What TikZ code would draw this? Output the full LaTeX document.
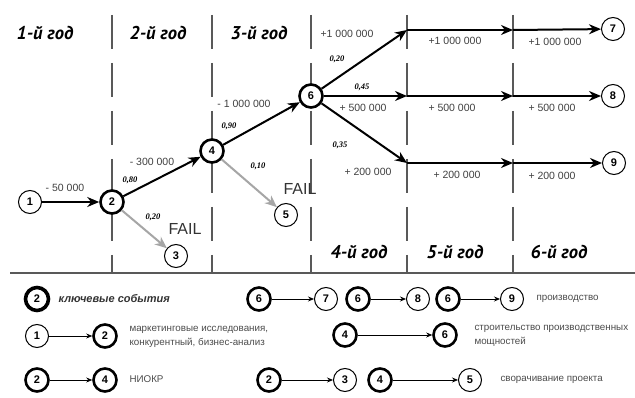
\documentclass[tikz,border=0pt]{standalone}
\usepackage{fontspec}
\setmainfont{Liberation Sans}
\newfontfamily\ptsans{PT Sans}
\newfontfamily\tnr{Liberation Serif}
\usetikzlibrary{arrows.meta}
\begin{document}
\begin{tikzpicture}[x=1pt,y=-1pt,
 ev/.style={circle,draw,fill=white,minimum size=23pt,inner sep=0pt,font=\fontsize{11}{11}\selectfont\bfseries,line width=1pt},
 key/.style={ev,line width=2.6pt},
 main/.style={line width=2pt,-{Stealth[length=12pt,width=10pt]}},
 fail/.style={line width=2pt,draw=black!35,-{Stealth[length=12pt,width=10pt]}},
 amt/.style={font=\fontsize{10.5}{11}\selectfont,text=black!75},
 prob/.style={font=\tnr\fontsize{8.5}{9}\selectfont\bfseries\itshape},
 year/.style={font=\ptsans\fontsize{18.5}{19}\selectfont\bfseries\itshape},
 failt/.style={font=\fontsize{16}{16}\selectfont,text=black!80},
 gridl/.style={draw=black!65,line width=1.3pt,dash pattern=on 34pt off 14pt},
 leg/.style={line width=0.8pt,-{Stealth[length=6pt,width=5pt]}},
 ltext/.style={font=\fontsize{9.8}{13.5}\selectfont,text=black!70,align=left,anchor=west}
]
\useasboundingbox[fill=white] (0,0) rectangle (635,398);
% grid
\foreach \xx in {112,212,311,407,513}{\draw[gridl] (\xx,15) -- (\xx,273);}
\draw[black!65,line width=1.3pt] (10,273) -- (635,273);
% years
\node[year] (y1) at (45,33) {1-й год};
\node[year] (y2) at (158,33) {2-й год};
\node[year] (y3) at (259,33) {3-й год};
\node[year] (y4) at (359,252) {4-й год};
\node[year] (y5) at (455,252) {5-й год};
\node[year] (y6) at (559,252) {6-й год};
% nodes
\node[ev]  (n1) at (30,202) {1};
\node[key] (n2) at (112,202) {2};
\node[key] (n4) at (212,151) {4};
\node[ev]  (n3) at (176,256) {3};
\node[ev]  (n5) at (286,215) {5};
\node[key] (n6) at (311,96) {6};
\node[ev]  (n7) at (613,29) {7};
\node[ev]  (n8) at (613,96) {8};
\node[ev]  (n9) at (614,163) {9};
\coordinate (a1) at (407,30);
\coordinate (a2) at (513,30);
\coordinate (b1) at (407,96);
\coordinate (b2) at (513,96);
\coordinate (c1) at (407,163);
\coordinate (c2) at (513,163);
% connectors
\draw[main] (n1) -- (n2);
\draw[main] (n2) -- (n4);
\draw[main] (n4) -- (n6);
\draw[fail] (n2) -- (n3);
\draw[fail] (n4) -- (n5);
\draw[main] (n6) -- (a1);
\draw[main] (a1) -- (a2);
\draw[main] (a2) -- (n7);
\draw[main] (n6) -- (b1);
\draw[main] (b1) -- (b2);
\draw[main] (b2) -- (n8);
\draw[main] (n6) -- (c1);
\draw[main] (c1) -- (c2);
\draw[main] (c2) -- (n9);
% labels
\node[amt] (t1) at (65,188) {- 50 000};
\node[amt] (t2) at (152,162) {- 300 000};
\node[amt] (t3) at (244,104) {- 1 000 000};
\node[amt] (t4) at (347,34) {+1 000 000};
\node[amt] (t5) at (455,41) {+1 000 000};
\node[amt] (t6) at (555,42) {+1 000 000};
\node[amt] (t7) at (363,108) {+ 500 000};
\node[amt] (t8) at (452,108) {+ 500 000};
\node[amt] (t9) at (552,108) {+ 500 000};
\node[amt] (t10) at (368,172) {+ 200 000};
\node[amt] (t11) at (457,175) {+ 200 000};
\node[amt] (t12) at (552,176) {+ 200 000};
\node[prob] (p1) at (130,180) {0,80};
\node[prob] (p2) at (153,217) {0,20};
\node[prob] (p3) at (229,126) {0,90};
\node[prob] (p4) at (258,166) {0,10};
\node[prob] (p5) at (337,59) {0,20};
\node[prob] (p6) at (362,87) {0,45};
\node[prob] (p7) at (340,145) {0,35};
\node[failt] (f1) at (185,229) {FAIL};
\node[failt] (f2) at (300,189) {FAIL};
% legend
\node[key,line width=3.6pt] (l2) at (37,299) {2};
\node[anchor=west,font=\fontsize{11}{11}\selectfont\bfseries\itshape,text=black!80] (lk) at (55,299) {ключевые события};
\node[key] (la6) at (259,299) {6};
\node[ev]  (la7) at (326,299) {7};
\node[key] (lb6) at (358,299) {6};
\node[ev]  (lb8) at (418,299) {8};
\node[key] (lc6) at (448,299) {6};
\node[ev]  (lc9) at (512,299) {9};
\draw[leg] (la6) -- (la7);
\draw[leg] (lb6) -- (lb8);
\draw[leg] (lc6) -- (lc9);
\node[ltext] (lp) at (533,299) {производство};
\node[ev]  (m1) at (37,336) {1};
\node[key] (m2) at (105,336) {2};
\draw[leg] (m1) -- (m2);
\node[ltext] (mt) at (126,337) {маркетинговые исследования,\\конкурентный, бизнес-анализ};
\node[key] (m4) at (345,335) {4};
\node[key] (m6) at (445,335) {6};
\draw[leg] (m4) -- (m6);
\node[ltext] (st) at (471,336) {строительство производственных\\мощностей};
\node[key] (r2) at (37,380) {2};
\node[key] (r4) at (105,380) {4};
\draw[leg] (r2) -- (r4);
\node[ltext] (ni) at (126,379) {НИОКР};
\node[key] (s2) at (269,380) {2};
\node[ev]  (s3) at (345,380) {3};
\node[key] (s4) at (380,380) {4};
\node[ev]  (s5) at (470,380) {5};
\draw[leg] (s2) -- (s3);
\draw[leg] (s4) -- (s5);
\node[ltext] (sv) at (497,380) {сворачивание проекта};
\end{tikzpicture}
\end{document}
